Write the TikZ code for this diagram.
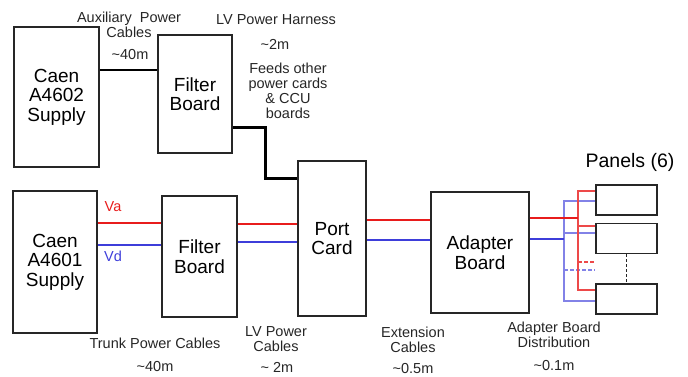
\documentclass[tikz,border=0pt]{standalone}
\usepackage{fontspec}
\setmainfont{Liberation Sans}
\usetikzlibrary{positioning, calc}
\usepackage{xcolor}
\definecolor{vared}{RGB}{232,28,28}
\definecolor{vdblue}{RGB}{62,62,218}
\tikzset{
  box/.style     = {draw=black!85, line width=1.2pt, align=center, inner sep=0pt,
                    font=\fontsize{19}{19.5}\selectfont},
  panel/.style   = {draw=black!85, line width=1.2pt, inner sep=0pt,
                    minimum width=61pt, minimum height=30pt},
  lbl/.style     = {align=center, inner sep=0pt, text=black!85,
                    font=\fontsize{14.5}{15}\selectfont},
  auxline/.style = {line width=2pt, draw=black},
  harness/.style = {line width=3pt, draw=black},
  va/.style      = {line width=2.4pt, draw=vared},
  vd/.style      = {line width=2.4pt, draw=vdblue},
  vadist/.style  = {line width=1.2pt, draw=vared!80},
  vddist/.style  = {line width=1.2pt, draw=vdblue!65}
}

\begin{document}
\begin{tikzpicture}[x=1pt, y=-1pt]
\useasboundingbox (0,0) rectangle (688,377);

% Auxiliary chain (top row)
\node[box, minimum width=85pt, minimum height=140pt] at (56.5,97) (caentop) {Caen\\A4602\\Supply};
\node[box, minimum width=74pt, minimum height=118pt] at (195,94)  (filttop) {Filter\\Board};

% Trunk chain (bottom row)
\node[box, minimum width=84pt, minimum height=142pt] at (55,262)    (caenbot) {Caen\\A4601\\Supply};
\node[box, minimum width=75pt, minimum height=121pt] at (199.5,256.5) (filtbot) {Filter\\Board};
\node[box, minimum width=68pt, minimum height=155pt] at (332,238.5)   (port)    {Port\\Card};
\node[box, minimum width=98pt, minimum height=121pt] at (480,252.5)   (adapter) {Adapter\\Board};

% Panels
\node[panel] at (626.5,200)   (pone)   {};
\node[panel] at (626.5,238.5) (ptwo)   {};
\node[panel] at (626.5,299)   (pthree) {};
\node[font=\fontsize{19.5}{20}\selectfont, inner sep=0pt] at (630,162) (panels) {Panels (6)};

% Cable labels
\node[lbl] at (129,24.5) (auxlbl)  {Auxiliary\ \ Power\\Cables};
\node[lbl] at (130,55)   (auxlen)  {\textasciitilde40m};
\node[lbl] at (276,20)   (harnlbl) {LV Power Harness};
\node[lbl] at (275,44)   (harnlen) {\textasciitilde2m};
\node[lbl] at (288,90.5) (feeds)   {Feeds other\\power cards\\\& CCU\\boards};
\node[lbl, text=vared]  at (113,207) (valbl) {Va};
\node[lbl, text=vdblue] at (113,256) (vdlbl) {Vd};
\node[lbl] at (155,343)   (trunklbl) {Trunk Power Cables};
\node[lbl] at (155,367)   (trunklen) {\textasciitilde40m};
\node[lbl] at (276,339)   (lvlbl)    {LV Power\\Cables};
\node[lbl] at (277,367)   (lvlen)    {\textasciitilde\ 2m};
\node[lbl] at (413,339.5) (extlbl)   {Extension\\Cables};
\node[lbl] at (413,368.5) (extlen)   {\textasciitilde0.5m};
\node[lbl] at (554,335)   (distlbl)  {Adapter Board\\Distribution};
\node[lbl] at (554,366)   (distlen)  {\textasciitilde0.1m};

% Auxiliary cable and harness
\coordinate (bend) at (265,178);
\draw[auxline] (caentop.east |- 0,70) -- (filttop.west |- 0,70);
\draw[harness] (filttop.east |- 0,128) -| (bend) -- (port.west |- bend);

% Va / Vd trunk
\draw[va] (caenbot.east |- 0,223) -- (filtbot.west |- 0,223);
\draw[vd] (caenbot.east |- 0,245) -- (filtbot.west |- 0,245);
\draw[va] (filtbot.east |- 0,224) -- (port.west |- 0,224);
\draw[vd] (filtbot.east |- 0,242) -- (port.west |- 0,242);
\draw[va] (port.east |- 0,220) -- (adapter.west |- 0,220);
\draw[vd] (port.east |- 0,240) -- (adapter.west |- 0,240);

% Distribution to panels
\coordinate (btop) at (564,201);
\coordinate (bbot) at (564,301);
\coordinate (rtop) at (578,191);
\coordinate (rbot) at (578,290);
\draw[vddist] (pone.west |- btop) -- (btop) -- (bbot) -- (pthree.west |- bbot);
\draw[vddist] (btop |- 0,233) -- (ptwo.west |- 0,233);
\draw[vddist, dash pattern=on 4pt off 2pt] (btop |- 0,270) -- (ptwo.west |- 0,270);
\draw[vadist] (pone.west |- rtop) -- (rtop) -- (rbot) -- (pthree.west |- rbot);
\draw[vadist] (rtop |- 0,226) -- (ptwo.west |- 0,226);
\draw[vadist, dash pattern=on 4pt off 2pt] (rtop |- 0,262) -- (ptwo.west |- 0,262);
\draw[vd] (adapter.east |- 0,239) -- (btop |- 0,239);
\draw[va] (adapter.east |- 0,218) -- (rtop |- 0,218);
\draw[black!85, line width=1pt, dash pattern=on 3pt off 2pt] (ptwo.south) -- (pthree.north);
\end{tikzpicture}
\end{document}
